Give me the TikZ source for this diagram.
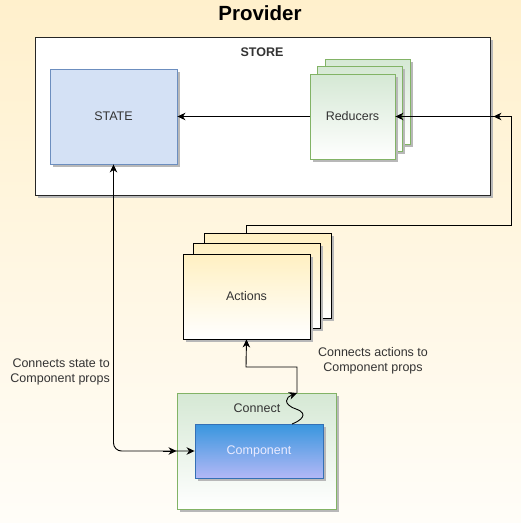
\documentclass[tikz,border=0pt]{standalone}
\usepackage{fontspec}
\setmainfont{Liberation Sans}
\usetikzlibrary{calc,arrows.meta,shadows}
\definecolor{bgtop}{HTML}{FFF0CC}
\definecolor{bgbot}{HTML}{FFFDF8}
\definecolor{statefill}{HTML}{D4E1F5}
\definecolor{statedraw}{HTML}{6C8EBF}
\definecolor{greenfill}{HTML}{D5E8D4}
\definecolor{greendraw}{HTML}{82B366}
\definecolor{yellowfill}{HTML}{FFF0C2}
\definecolor{comptop}{HTML}{3896DE}
\definecolor{compbot}{HTML}{B3B8F6}
\definecolor{compdraw}{HTML}{3470B5}
\definecolor{textgray}{HTML}{333333}
\tikzset{%
  >={Stealth[length=8pt, width=7.5pt, inset=2.5pt]},
  card/.style={draw, line width=0.9pt, inner sep=0pt, text=textgray,
    font=\fontsize{12.5}{15}\selectfont,
    drop shadow={shadow xshift=2.5pt, shadow yshift=-2.5pt, fill=black!28, opacity=1}},
  storebox/.style={card, fill=white, draw=black!85},
  statebox/.style={card, fill=statefill, draw=statedraw},
  reducerbox/.style={card, draw=greendraw, top color=greenfill, bottom color=white,
    minimum width=85pt, minimum height=85pt},
  actionbox/.style={card, draw=black, top color=yellowfill, bottom color=white,
    minimum width=127pt, minimum height=85pt},
  connectbox/.style={card, draw=greendraw, top color=greenfill, bottom color=white},
  compbox/.style={card, draw=compdraw, top color=comptop, bottom color=compbot, text=white!92!blue},
  plain text/.style={text=textgray, font=\fontsize{12.5}{15}\selectfont, inner sep=0pt},
  flow/.style={line width=0.9pt, ->},
}
\newcommand{\JoinData}{
  \coordinate (wavestart) at (292,424);% foot of the squiggle
  \coordinate (wavemid) at (296,409);% turn of the squiggle
  \coordinate (waveend) at (297,393);% top edge of Connect
  \coordinate (actjoin) at (246,367);% under Actions
  \coordinate (loop) at (511,225);% right turn of the feedback line
}

\begin{document}
\begin{tikzpicture}[x=1pt,y=-1pt]
  \path[use as bounding box, top color=bgtop, bottom color=bgbot] (0,0) rectangle (521,523);
  \JoinData% makes coordinates available
  \node[plain text, text=black, font=\bfseries\fontsize{20.5}{24}\selectfont] (provider) at (260,13) {Provider};
  % store with state and reducers
  \node[storebox, minimum width=455pt, minimum height=158pt] (store) at (262.5,116) {};
  \node[plain text, font=\bfseries\fontsize{12.5}{15}\selectfont] (storelabel) at (262,52) {STORE};
  \node[statebox, minimum width=127pt, minimum height=95pt] (state) at (113.5,116.5) {STATE};
  \foreach \i/\d in {3/15,2/7.5}
    \node[reducerbox] (red\i) at ($(352.5,116.5)+(\d,-\d)$) {};
  \node[reducerbox] (red1) at (352.5,116.5) {Reducers};
  % actions
  \foreach \i/\d in {3/21,2/10.5}
    \node[actionbox] (act\i) at ($(246.5,296.5)+(\d,-\d)$) {};
  \node[actionbox] (act1) at (246.5,296.5) {Actions};
  % connect with component
  \node[connectbox, minimum width=159pt, minimum height=116pt] (conn) at (256.5,451) {};
  \node[plain text] (connlabel) at (257,408) {Connect};
  \node[compbox, minimum width=128pt, minimum height=54pt] (comp) at (259,451) {Component};
  % connectors
  \draw[flow] (red1.west) -- (state.east);
  \draw[flow] (act1.north |- act3.north) |- (loop) |- (red1.east);
  \draw[flow] (loop |- red1.east) -- ($(store.east |- red1.east)+(3,0)$);
  \draw[flow] (wavestart) .. controls (300,421) and (310,414) .. (wavemid)
    .. controls (282,404) and (286,397) .. (waveend);
  \draw[flow, <->, rounded corners=8pt] (state.south) |- (comp.west);
  \draw[flow] (waveend) |- (actjoin) -- (act1.south);
  \draw[flow] ($(conn.west |- comp.west)+(-14,0)$) -- (conn.west |- comp.west);
  \node[plain text, align=right, anchor=east] (statenote) at (110,372) {Connects state to\\Component props};
  \node[plain text, align=center] (actnote) at (373,361) {Connects actions to\\Component props};
\end{tikzpicture}
\end{document}
